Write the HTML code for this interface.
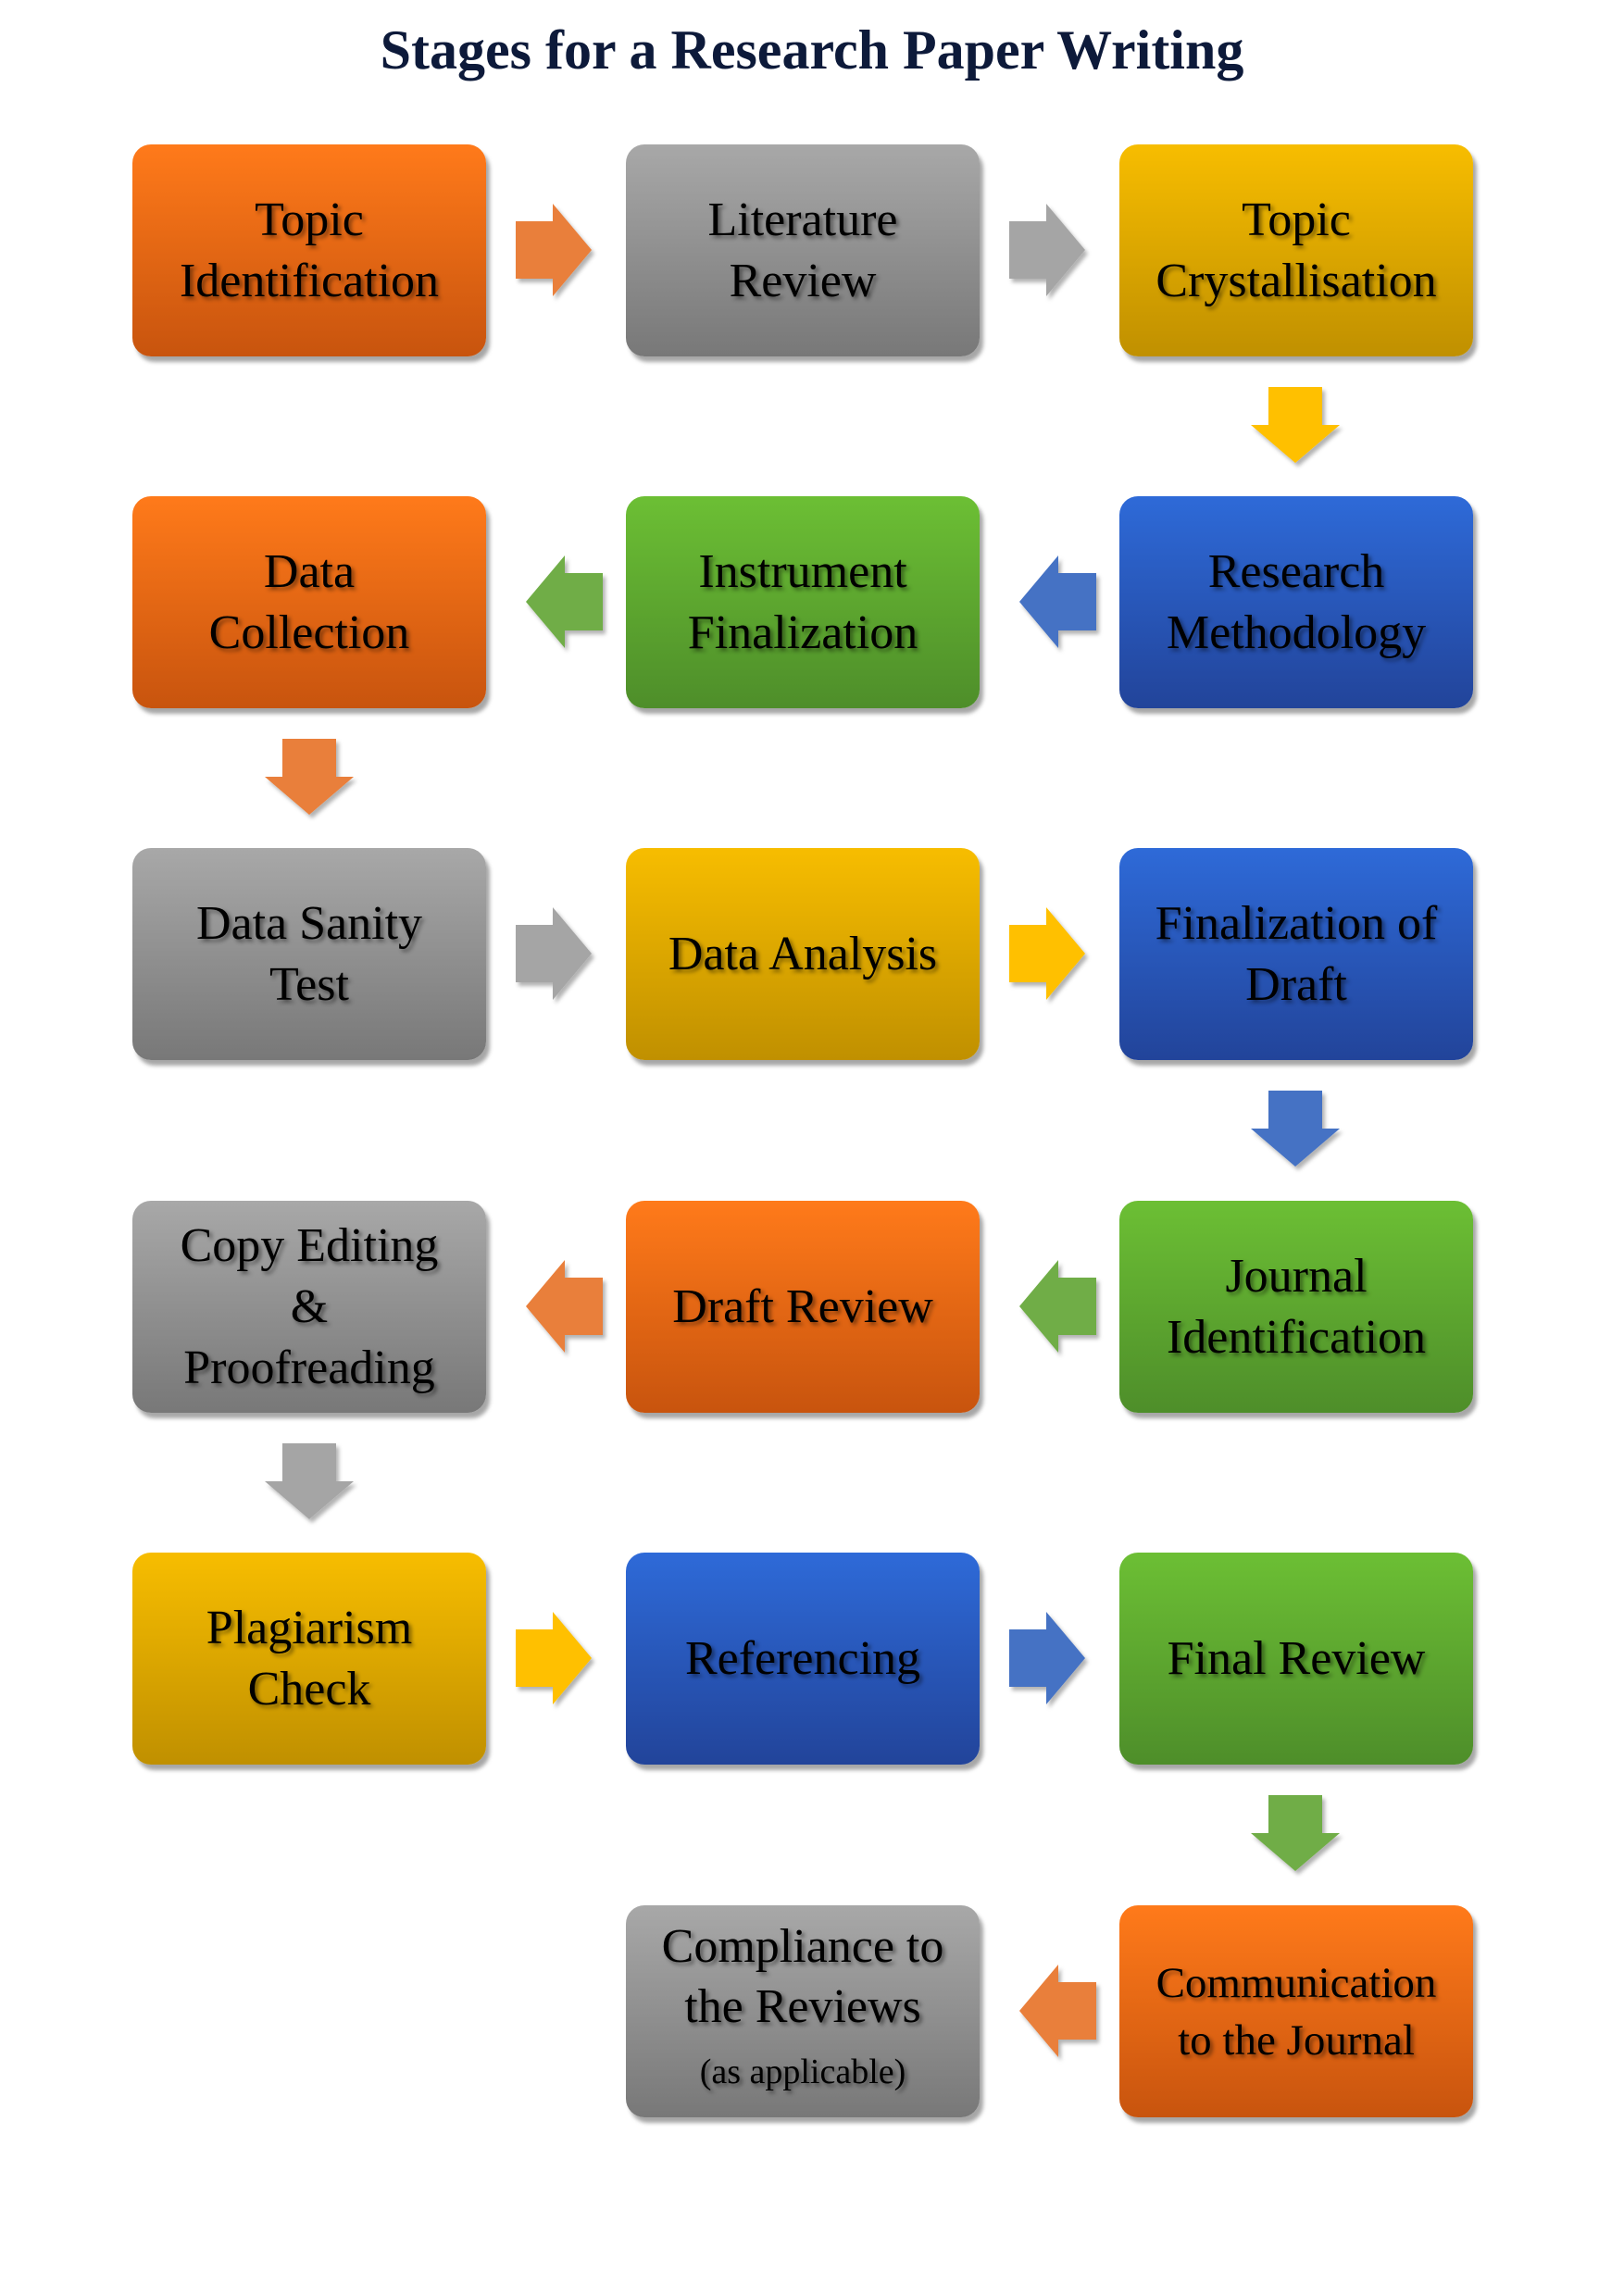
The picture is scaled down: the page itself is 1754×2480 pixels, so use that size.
<!DOCTYPE html>
<html><head><meta charset="utf-8"><style>
html,body{margin:0;padding:0;background:#fff}
body{width:1754px;height:2480px;position:relative;overflow:hidden;font-family:"Liberation Serif",serif}
.t{position:absolute;left:0;width:1754px;top:20px;text-align:center;font-weight:bold;font-size:60px;color:#0d1a3a}
.b{position:absolute;width:382px;height:229px;border-radius:20px;display:flex;align-items:center;justify-content:center;text-align:center;font-size:52px;line-height:66px;color:#000;box-shadow:4px 6px 4px rgba(0,0,0,0.35);text-shadow:3px 3px 4px rgba(0,0,0,0.45)}
.o{background:linear-gradient(#ff7a1a,#c8540e)}
.g{background:linear-gradient(#a8a8a8,#787878)}
.y{background:linear-gradient(#f7bd00,#c09000)}
.u{background:linear-gradient(#2e6ad8,#22449a)}
.n{background:linear-gradient(#6cbf34,#4e8e2a)}
svg.a{position:absolute;overflow:visible}
</style></head><body>
<div class="t">Stages for a Research Paper Writing</div>

<div class="b o" style="left:143px;top:156px">Topic<br>Identification</div>
<div class="b g" style="left:676px;top:156px">Literature<br>Review</div>
<div class="b y" style="left:1209px;top:156px">Topic<br>Crystallisation</div>

<div class="b o" style="left:143px;top:536px">Data<br>Collection</div>
<div class="b n" style="left:676px;top:536px">Instrument<br>Finalization</div>
<div class="b u" style="left:1209px;top:536px">Research<br>Methodology</div>

<div class="b g" style="left:143px;top:916px">Data Sanity<br>Test</div>
<div class="b y" style="left:676px;top:916px">Data Analysis</div>
<div class="b u" style="left:1209px;top:916px">Finalization of<br>Draft</div>

<div class="b g" style="left:143px;top:1297px">Copy Editing<br>&amp;<br>Proofreading</div>
<div class="b o" style="left:676px;top:1297px">Draft Review</div>
<div class="b n" style="left:1209px;top:1297px">Journal<br>Identification</div>

<div class="b y" style="left:143px;top:1677px">Plagiarism<br>Check</div>
<div class="b u" style="left:676px;top:1677px">Referencing</div>
<div class="b n" style="left:1209px;top:1677px">Final Review</div>

<div class="b g" style="left:676px;top:2058px;flex-direction:column;line-height:65px">Compliance to<br>the Reviews<span style="font-size:38px;line-height:76px">(as applicable)</span></div>
<div class="b o" style="left:1209px;top:2058px;font-size:47px;line-height:62px">Communication<br>to the Journal</div>

<svg width="0" height="0" style="position:absolute"><defs>
<filter id="s"><feDropShadow dx="3" dy="4" stdDeviation="2" flood-color="#000" flood-opacity="0.3"/></filter>
</defs></svg>

<svg class="a" style="left:557px;top:220px" width="82" height="100"><polygon filter="url(#s)" fill="#e97f3a" points="0,19 40,19 40,0 82,50 40,100 40,81 0,81"/></svg>
<svg class="a" style="left:1090px;top:220px" width="82" height="100"><polygon filter="url(#s)" fill="#a5a5a5" points="0,19 40,19 40,0 82,50 40,100 40,81 0,81"/></svg>
<svg class="a" style="left:1351px;top:418px" width="96" height="82"><polygon filter="url(#s)" fill="#ffc000" points="19,0 77,0 77,41 96,41 48,82 0,41 19,41"/></svg>

<svg class="a" style="left:1101px;top:600px" width="83" height="100"><polygon filter="url(#s)" fill="#4472c4" points="83,19 42,19 42,0 0,50 42,100 42,81 83,81"/></svg>
<svg class="a" style="left:568px;top:600px" width="83" height="100"><polygon filter="url(#s)" fill="#70ad47" points="83,19 42,19 42,0 0,50 42,100 42,81 83,81"/></svg>
<svg class="a" style="left:286px;top:798px" width="96" height="82"><polygon filter="url(#s)" fill="#e97f3a" points="19,0 77,0 77,41 96,41 48,82 0,41 19,41"/></svg>

<svg class="a" style="left:557px;top:980px" width="82" height="100"><polygon filter="url(#s)" fill="#a5a5a5" points="0,19 40,19 40,0 82,50 40,100 40,81 0,81"/></svg>
<svg class="a" style="left:1090px;top:980px" width="82" height="100"><polygon filter="url(#s)" fill="#ffc000" points="0,19 40,19 40,0 82,50 40,100 40,81 0,81"/></svg>
<svg class="a" style="left:1351px;top:1178px" width="96" height="82"><polygon filter="url(#s)" fill="#4472c4" points="19,0 77,0 77,41 96,41 48,82 0,41 19,41"/></svg>

<svg class="a" style="left:1101px;top:1361px" width="83" height="100"><polygon filter="url(#s)" fill="#70ad47" points="83,19 42,19 42,0 0,50 42,100 42,81 83,81"/></svg>
<svg class="a" style="left:568px;top:1361px" width="83" height="100"><polygon filter="url(#s)" fill="#e97f3a" points="83,19 42,19 42,0 0,50 42,100 42,81 83,81"/></svg>
<svg class="a" style="left:286px;top:1559px" width="96" height="82"><polygon filter="url(#s)" fill="#a5a5a5" points="19,0 77,0 77,41 96,41 48,82 0,41 19,41"/></svg>

<svg class="a" style="left:557px;top:1741px" width="82" height="100"><polygon filter="url(#s)" fill="#ffc000" points="0,19 40,19 40,0 82,50 40,100 40,81 0,81"/></svg>
<svg class="a" style="left:1090px;top:1741px" width="82" height="100"><polygon filter="url(#s)" fill="#4472c4" points="0,19 40,19 40,0 82,50 40,100 40,81 0,81"/></svg>
<svg class="a" style="left:1351px;top:1939px" width="96" height="82"><polygon filter="url(#s)" fill="#70ad47" points="19,0 77,0 77,41 96,41 48,82 0,41 19,41"/></svg>

<svg class="a" style="left:1101px;top:2122px" width="83" height="100"><polygon filter="url(#s)" fill="#e97f3a" points="83,19 42,19 42,0 0,50 42,100 42,81 83,81"/></svg>
</body></html>
